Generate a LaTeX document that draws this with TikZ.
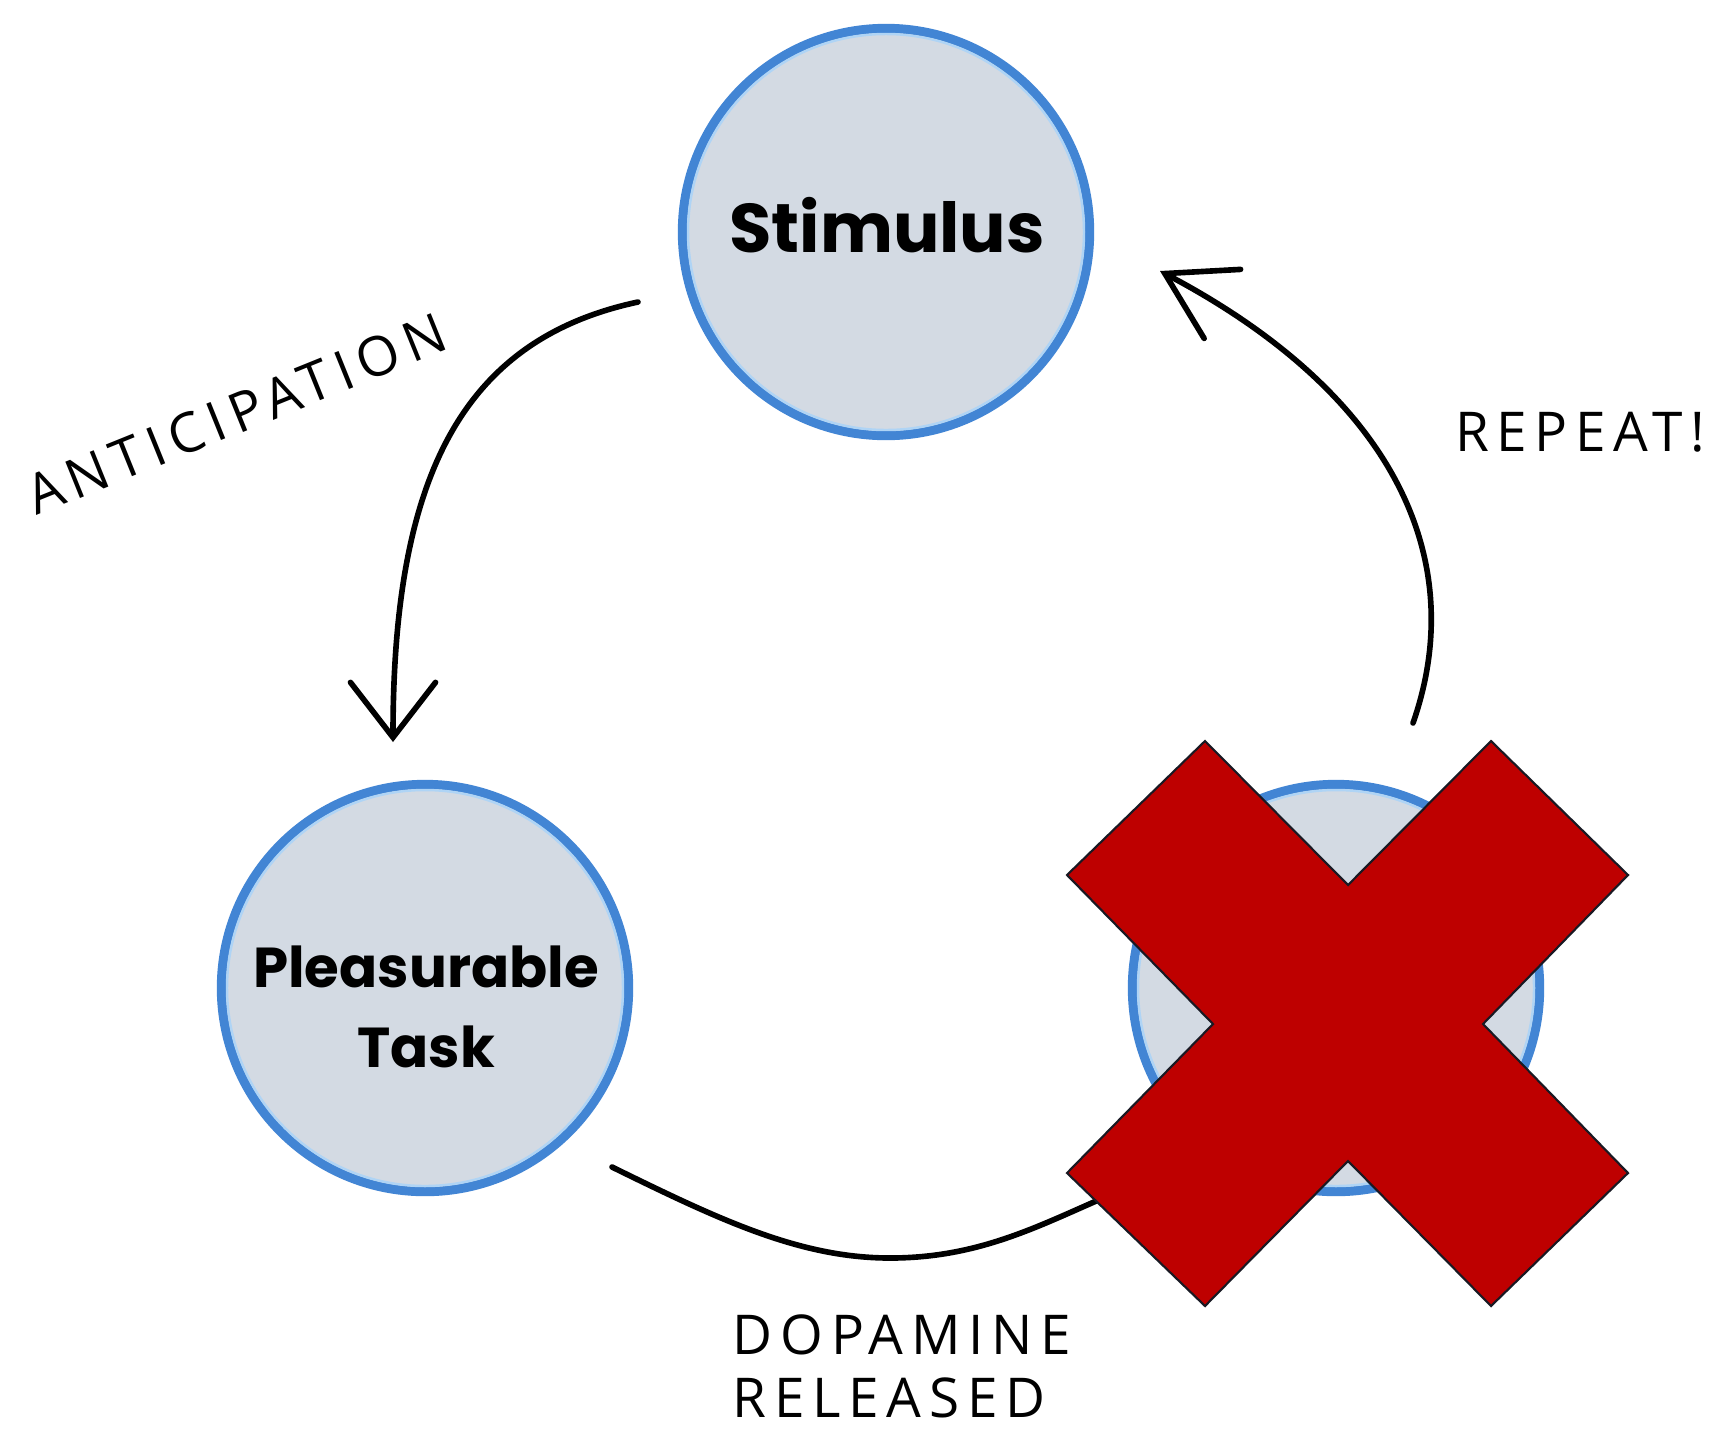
\documentclass[tikz,border=0pt]{standalone}
\usepackage{fontspec}
\setmainfont{Poppins}
\newfontfamily\handfont{Open Sans}[LetterSpace=14]
\usetikzlibrary{arrows.meta}
\definecolor{ringblue}{RGB}{66,133,212}
\definecolor{ringlight}{RGB}{175,212,245}
\definecolor{discfill}{RGB}{211,218,227}
\definecolor{xred}{RGB}{190,0,0}
\definecolor{xline}{RGB}{25,25,35}
\begin{document}
\begin{tikzpicture}[x=0.01cm,y=-0.01cm,
  bubble/.style={circle, draw=ringblue, line width=2.6pt, fill=discfill,
    minimum size=4.07cm, inner sep=0pt},
  innerring/.style={draw=ringlight, line width=0.7pt},
  bigtxt/.style={font=\bfseries\fontsize{19.6}{24}\selectfont, inner sep=0pt},
  midtxt/.style={font=\bfseries\fontsize{16}{22.8}\selectfont, align=center, inner sep=0pt},
  hand/.style={font=\handfont\fontsize{15.6}{17.9}\selectfont, inner sep=0pt},
  conn/.style={draw=black, line width=1.6pt, line cap=round, line join=round},
  barb/.style={-{Straight Barb[length=0.55cm,width=0.85cm,line cap=round]}}
]
\useasboundingbox (0,0) rectangle (1731,1433);
\fill[white] (0,0) rectangle (1731,1433);

% circles
\node[bubble] (S) at (886,232) {};
\node[bubble] (P) at (425,988) {};
\node[bubble] (D) at (1336,988) {};
\foreach \n in {S,P,D} \draw[innerring] (\n.center) circle[radius=198];

% labels in circles
\node[bigtxt] (Slbl) at (887,225) {Stimulus};
\node[midtxt] (Plbl) at (426,1007) {Pleasurable\\Task};

% connector end points
\coordinate (a1) at (638,302);
\coordinate (a2) at (393,742);
\coordinate (r1) at (1413,723);
\coordinate (r2) at (1160,271);
\coordinate (d1) at (612,1167);
\coordinate (d2) at (1110,1195);

% connectors
\draw[conn, barb] (a1) .. controls (460,340) and (393,480) .. (a2);
\draw[conn, -{Straight Barb[length=0.65cm,width=0.78cm,line cap=round]}]
  (r1) .. controls (1470,560) and (1395,395) .. (r2);
\draw[conn] (d1) .. controls (720,1220) and (800,1258) .. (890,1258)
  .. controls (980,1258) and (1040,1225) .. (d2);

% handwritten labels
\node[hand, rotate=22] (antic) at (236,414) {ANTICIPATION};
\node[hand] (rep) at (1580,432) {REPEAT!};
\node[hand, align=left] (dop) at (902,1366) {DOPAMINE\\RELEASED};

% red cross
\draw[draw=xline, fill=xred, line width=0.6pt, line join=miter]
  (1205,741) -- (1348,885) -- (1491,741) -- (1628,875) -- (1483,1024)
  -- (1628,1173) -- (1491,1306) -- (1348,1161) -- (1205,1306)
  -- (1067,1173) -- (1213,1024) -- (1067,875) -- cycle;
\end{tikzpicture}
\end{document}
